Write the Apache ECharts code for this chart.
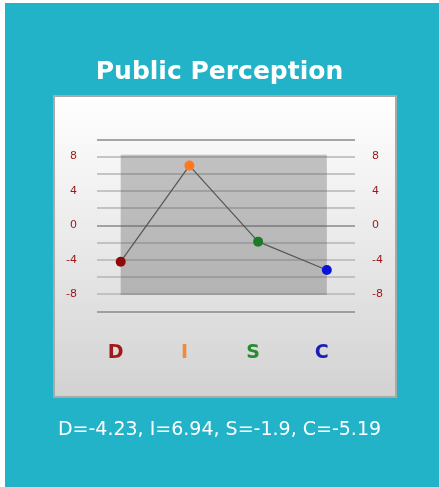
<!DOCTYPE html>
<html><head><meta charset="utf-8">
<script src="https://cdn.jsdelivr.net/npm/echarts@6/dist/echarts.min.js"></script>
<style>html,body{margin:0;padding:0;background:#fff}#c{width:439px;height:487px}</style>
</head><body><div id="c"></div>
<script>
const categories = ['D', 'I', 'S', 'C'];
const values = [-4.23, 6.94, -1.9, -5.19];
const pointColors = ['#8e0a0a', '#ff7a1f', '#1d7a25', '#0a14d8'];
const labelColors = ['#a01818', '#f28a3c', '#2a8a30', '#1c1cb4'];
const yTickLabels = [8, 4, 0, -4, -8];
const titleText = 'Public Perception';
const summaryText = categories.map((c, i) => c + '=' + values[i]).join(', ');

const chart = echarts.init(document.getElementById('c'), null, {renderer: 'canvas'});
const rich = {};
categories.forEach((c, i) => { rich['c' + i] = {color: labelColors[i], fontSize: 19, fontWeight: 'bold', fontFamily: 'DejaVu Sans', padding: [0, 10, 0, 0]}; });

const yAxisBase = {
  type: 'value', min: -10, max: 10, interval: 2,
  axisLine: {show: false}, axisTick: {show: false},
  axisLabel: {
    color: '#9c1818', fontSize: 11, fontFamily: 'DejaVu Sans',
    formatter: v => yTickLabels.indexOf(v) >= 0 ? String(v) : ''
  }
};

chart.setOption({
  animation: false,
  backgroundColor: '#ffffff',
  graphic: [
    {type: 'rect', z: -10, shape: {x: 5, y: 3, width: 434, height: 484}, style: {fill: '#22b3c8'}},
    {type: 'rect', z: -5, shape: {x: 54, y: 96, width: 342, height: 301},
      style: {fill: new echarts.graphic.LinearGradient(0, 0, 0, 1, [{offset: 0, color: '#ffffff'}, {offset: 0.3, color: '#f2f2f2'}, {offset: 1, color: '#d2d2d2'}]),
        stroke: '#a9a9a9', lineWidth: 2}},
    {type: 'text', left: 'center', top: 60, style: {text: titleText, fill: '#ffffff', font: 'bold 25px "DejaVu Sans"'}},
    {type: 'text', left: 'center', top: 421, style: {text: summaryText, fill: '#ffffff', font: '19px "DejaVu Sans"'}}
  ],
  grid: {left: 97, top: 139.3, width: 258, height: 172},
  xAxis: {
    type: 'value', min: -0.345, max: 3.41,
    splitLine: {show: false}, axisLine: {show: false}, axisTick: {show: false},
    axisLabel: {
      customValues: [0, 1, 2, 3], margin: 32,
      formatter: v => '{c' + v + '|' + categories[v] + '}', rich: rich
    }
  },
  yAxis: [
    Object.assign({}, yAxisBase, {position: 'left',
      axisLabel: Object.assign({}, yAxisBase.axisLabel, {margin: 20}),
      splitLine: {show: true, lineStyle: {color: ['#8a8a8a', '#b4b4b4', '#b4b4b4', '#b4b4b4', '#b4b4b4'], width: 1.5}}}),
    Object.assign({}, yAxisBase, {position: 'right',
      axisLabel: Object.assign({}, yAxisBase.axisLabel, {margin: 17}),
      splitLine: {show: false}})
  ],
  series: [{
    type: 'line',
    data: values.map((v, i) => ({value: [i, v], itemStyle: {color: pointColors[i]}})),
    symbol: 'circle', symbolSize: 10,
    lineStyle: {color: '#555555', width: 1.2},
    z: 5,
    markArea: {
      silent: true,
      itemStyle: {color: 'rgba(90,90,90,0.34)'},
      data: [[{coord: [0, 8.2]}, {coord: [3, -8.1]}]]
    }
  }]
});
</script></body></html>
